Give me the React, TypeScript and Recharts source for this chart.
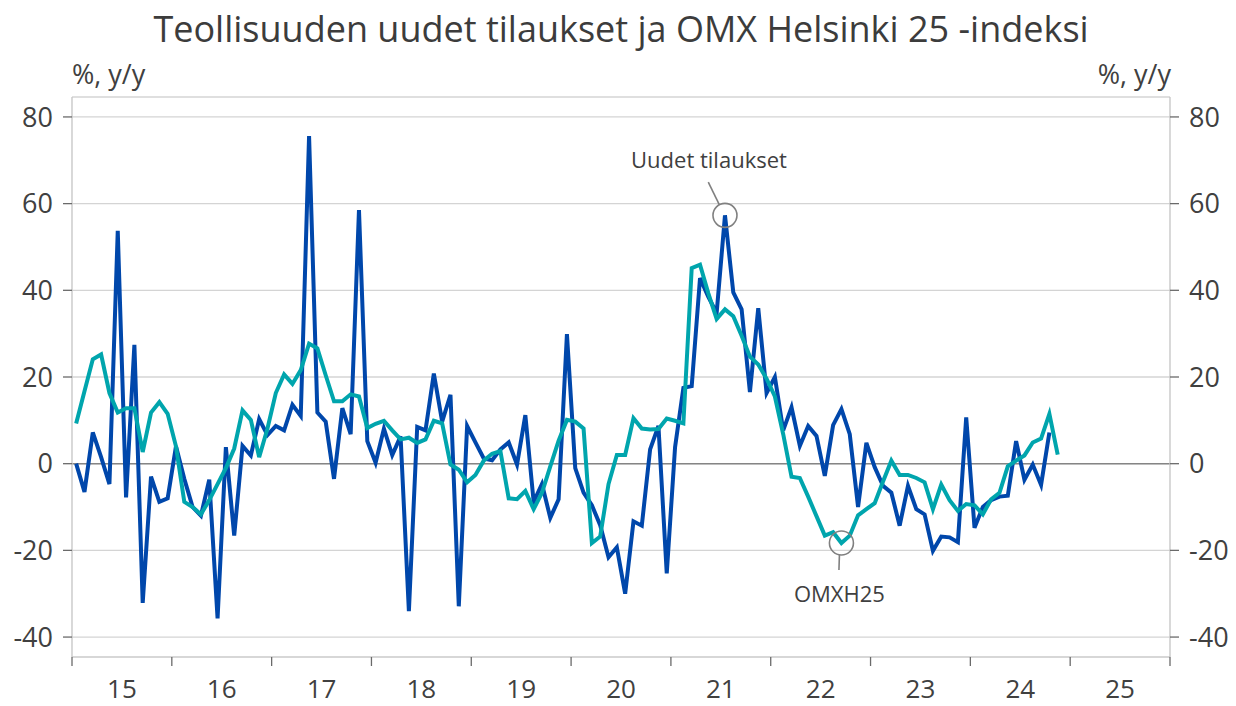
import React from 'react';
import { ComposedChart, Line, XAxis, YAxis, CartesianGrid, ReferenceLine, ReferenceDot } from 'recharts';

// Monthly, Jan 2015 onward
const orders = [
  0, -6.5, 7.2, 1.5, -4.7, 53.7, -7.8, 27.4, -32.1, -3, -8.8, -8,
  4, -3.5, -10, -12, -3.7, -35.7, 3.8, -16.6, 4.1, 1.9, 10.3, 6.6,
  8.7, 7.7, 13.6, 11, 75.6, 11.8, 9.7, -3.5, 12.8, 6.8, 58.5, 5.2,
  0.2, 8.1, 2, 6.3, -34, 8.5, 7.7, 20.8, 9.7, 15.9, -32.9, 8.7,
  4.9, 1.2, 0.8, 3.3, 4.9, -0.2, 11.2, -8.8, -4.7, -12.5, -8.2, 29.9,
  -1, -6.7, -9.6, -14.2, -21.6, -19.3, -30, -13.3, -14.3, 3.3, 8.7, -25.3,
  3.8, 17.5, 17.9, 42.8, 38.5, 34.8, 57.3, 39.5, 35.6, 16.5, 35.9, 16.3,
  20, 7.7, 13, 4.1, 8.7, 6.4, -2.8, 8.9, 12.6, 6.8, -10, 4.8,
  -0.8, -5.1, -6.7, -14.3, -5.1, -10.5, -11.7, -20.1, -16.8, -17, -18.1, 10.7,
  -14.8, -10, -8.4, -7.6, -7.4, 5.2, -3.7, -0.2, -4.9, 7.2,
];

const omxh25 = [
  9.3, 16.7, 24.1, 25.2, 16.3, 11.8, 12.8, 12.8, 2.7, 11.8, 14.2, 11.5,
  4, -8.8, -10, -11.7, -8.4, -4.7, -1, 3.5, 12.3, 10.1, 1.5, 8.1,
  16.3, 20.6, 18.4, 21.6, 27.7, 26.6, 20.4, 14.4, 14.4, 16, 15.5, 8.2,
  9.2, 9.9, 7.7, 5.6, 6, 4.8, 5.6, 9.9, 9.3, -0.2, -1.4, -4.3,
  -2.6, 0.7, 2.3, 2.9, -8, -8.2, -6.3, -10.5, -6.7, -0.6, 5.3, 10.1,
  9.7, 8.1, -18.3, -16.8, -4.7, 2, 2, 10.5, 8.1, 7.9, 8, 10.4,
  9.9, 9.3, 45.1, 45.9, 39.3, 33.4, 35.6, 34, 29.5, 24.7, 22.9, 19.6,
  15.5, 6.8, -3, -3.3, -7.6, -12.1, -16.6, -15.8, -18.3, -16.6, -11.9, -10.5,
  -9.1, -4.1, 0.7, -2.6, -2.6, -3.3, -4.3, -10.5, -4.8, -8.4, -10.9, -9.3,
  -9.6, -11.7, -8.2, -6.7, -0.6, 0.7, 1.9, 4.9, 5.8, 11.5, 2.1,
];

const yearLabels = ['15', '16', '17', '18', '19', '20', '21', '22', '23', '24', '25'];
const yTicks = [-40, -20, 0, 20, 40, 60, 80];
const annotationOrders = { label: 'Uudet tilaukset', month: 78 };
const annotationOmx = { label: 'OMXH25', month: 92 };

const firstYear = 2015;
const months = omxh25.map((_, i) => `${firstYear + Math.floor(i / 12)}-${String((i % 12) + 1).padStart(2, '0')}`);

const data = omxh25.map((v, i) => ({
  t: i + 0.5,
  month: months[i],
  omx: v,
  orders: i < orders.length ? orders[i] : null,
}));

const yearStartTicks = [...yearLabels.map((_, i) => i * 12), yearLabels.length * 12];
const xDomain = [0, yearLabels.length * 12];
const yDomain = [-44.6, 84.6];

const CHART_W = 1236;
const CHART_H = 706;
const LEFT_W = 72;
const RIGHT_W = 66;
const HALF_YEAR_PX = ((CHART_W - LEFT_W - RIGHT_W) / xDomain[1]) * 6;

const FONT = '"Open Sans", "Noto Sans", sans-serif';
const TEXT = '#404040';
const GRID = '#d4d4d4';
const TICK = '#6a6a6a';
const ANN = '#808080';

const OrdersMarker = (props: any) => {
  const { cx, cy } = props;
  return (
    <g>
      <circle cx={cx} cy={cy} r={12} fill="none" stroke={ANN} strokeWidth={1.6} />
      <line x1={cx - 5.7} y1={cy - 10.7} x2={cx - 16.7} y2={cy - 33.3} stroke={ANN} strokeWidth={1.6} />
      <text x={cx - 16} y={cy - 47} textAnchor="middle" fontSize={22} fontFamily={FONT} fill={TEXT}>
        {annotationOrders.label}
      </text>
    </g>
  );
};

const OmxMarker = (props: any) => {
  const { cx, cy } = props;
  return (
    <g>
      <circle cx={cx} cy={cy} r={12} fill="none" stroke={ANN} strokeWidth={1.6} />
      <line x1={cx - 2} y1={cy + 12} x2={cx - 2.5} y2={cy + 27} stroke={ANN} strokeWidth={1.6} />
      <text x={cx - 2} y={cy + 59} textAnchor="middle" fontSize={22} fontFamily={FONT} fill={TEXT}>
        {annotationOmx.label}
      </text>
    </g>
  );
};

const YearTick = (props: any) => {
  const { x, y, payload } = props;
  const idx = Math.round(payload.value / 12);
  if (idx >= yearLabels.length) return <g />;
  return (
    <text x={x + HALF_YEAR_PX} y={y + 30} textAnchor="middle" fontSize={26} fontFamily={FONT} fill={TEXT}>
      {yearLabels[idx]}
    </text>
  );
};

const tickStyle = { fontSize: 27, fontFamily: FONT, fill: TEXT };

export default function App() {
  return (
    <div style={{ position: 'absolute', left: 0, top: 0, width: CHART_W, height: CHART_H, background: '#fff' }}>
      <ComposedChart
        width={CHART_W}
        height={CHART_H}
        data={data}
        margin={{ top: 97, right: 0, bottom: 0, left: 0 }}
      >
        <CartesianGrid xAxisId="ticks" yAxisId="left" vertical={false} stroke={GRID} strokeWidth={1.3} />
        <XAxis
          xAxisId="ticks"
          dataKey="t"
          type="number"
          domain={xDomain}
          ticks={yearStartTicks}
          allowDataOverflow
          interval={0}
          height={49}
          axisLine={{ stroke: GRID, strokeWidth: 1.3 }}
          tickLine={{ stroke: TICK, strokeWidth: 1.3 }}
          tickSize={9}
          tickMargin={2}
          tick={<YearTick />}
        />
        <YAxis
          yAxisId="left"
          orientation="left"
          type="number"
          domain={yDomain}
          ticks={yTicks}
          allowDataOverflow
          interval={0}
          width={LEFT_W}
          axisLine={{ stroke: '#c4c4c4', strokeWidth: 1.3 }}
          tickLine={{ stroke: TICK, strokeWidth: 1.3 }}
          tickSize={9}
          tickMargin={10}
          tick={tickStyle}
        />
        <YAxis
          yAxisId="right"
          orientation="right"
          type="number"
          domain={yDomain}
          ticks={yTicks}
          allowDataOverflow
          interval={0}
          width={RIGHT_W}
          axisLine={{ stroke: '#c4c4c4', strokeWidth: 1.3 }}
          tickLine={{ stroke: TICK, strokeWidth: 1.3 }}
          tickSize={9}
          tickMargin={10}
          tick={tickStyle}
        />
        <ReferenceLine xAxisId="ticks" yAxisId="left" y={0} stroke="#858585" strokeWidth={1.6} />
        <Line
          xAxisId="ticks"
          yAxisId="left"
          dataKey="orders"
          name="Uudet tilaukset"
          stroke="#0047AB"
          strokeWidth={4}
          dot={false}
          isAnimationActive={false}
        />
        <Line
          xAxisId="ticks"
          yAxisId="right"
          dataKey="omx"
          name="OMXH25"
          stroke="#00A5AD"
          strokeWidth={4}
          dot={false}
          isAnimationActive={false}
        />
        <ReferenceDot
          xAxisId="ticks"
          yAxisId="left"
          x={annotationOrders.month + 0.5}
          y={orders[annotationOrders.month]}
          shape={OrdersMarker}
        />
        <ReferenceDot
          xAxisId="ticks"
          yAxisId="right"
          x={annotationOmx.month + 0.5}
          y={omxh25[annotationOmx.month]}
          shape={OmxMarker}
        />
      </ComposedChart>
      <svg width={CHART_W} height={100} style={{ position: 'absolute', left: 0, top: 0, pointerEvents: 'none' }}>
        <text x={621} y={42} textAnchor="middle" fontSize={36} fontFamily={FONT} fill="#3c3c3c">
          Teollisuuden uudet tilaukset ja OMX Helsinki 25 -indeksi
        </text>
        <text x={72} y={84} textAnchor="start" fontSize={27} fontFamily={FONT} fill={TEXT}>
          %, y/y
        </text>
        <text x={1171} y={84} textAnchor="end" fontSize={27} fontFamily={FONT} fill={TEXT}>
          %, y/y
        </text>
      </svg>
    </div>
  );
}
